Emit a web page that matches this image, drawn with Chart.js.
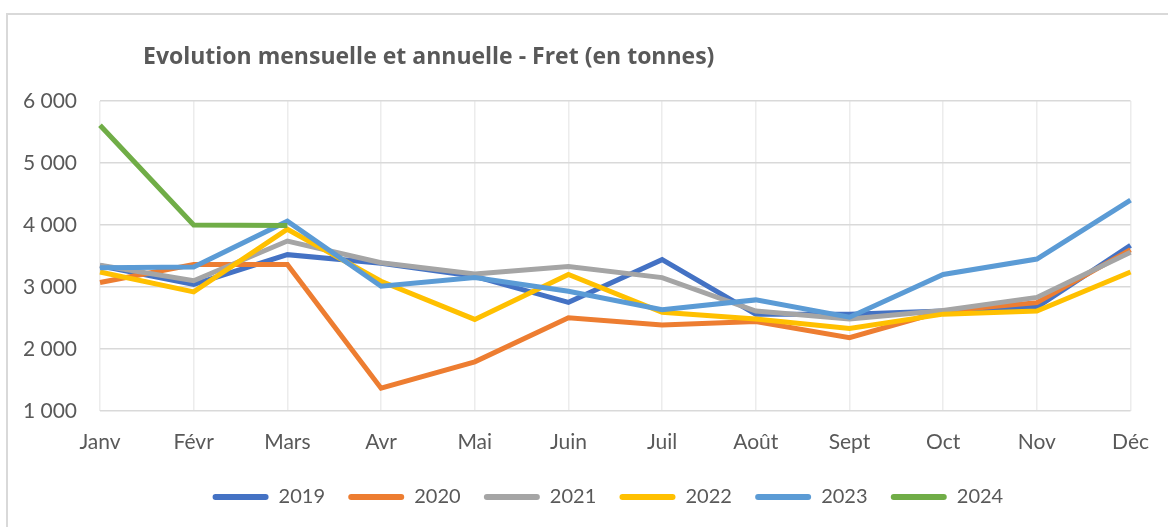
<!DOCTYPE html>
<html>
<head>
<meta charset="utf-8">
<script src="https://cdn.jsdelivr.net/npm/chart.js@4/dist/chart.umd.min.js"></script>
<style>
  html, body { margin: 0; padding: 0; background: #fff; }
  #wrap { position: relative; width: 1168px; height: 527px; overflow: hidden; }
  #frame { position: absolute; left: 6px; top: 13px; width: 1180px; height: 530px; border: 2px solid #d9d9d9; box-sizing: border-box; }
  #fretChart { position: absolute; left: 0; top: 0; }
</style>
</head>
<body>
<div id="wrap">
  <div id="frame"></div>
  <canvas id="fretChart" width="1168" height="527"></canvas>
</div>
<script>
// Data
const months = ['Janv', 'Févr', 'Mars', 'Avr', 'Mai', 'Juin', 'Juil', 'Août', 'Sept', 'Oct', 'Nov', 'Déc'];
const years = ['2019', '2020', '2021', '2022', '2023', '2024'];
const fret2019 = [3340, 3040, 3520, 3380, 3170, 2750, 3440, 2560, 2560, 2610, 2670, 3670];
const fret2020 = [3070, 3360, 3360, 1365, 1790, 2500, 2385, 2440, 2180, 2610, 2745, 3600];
const fret2021 = [3350, 3100, 3740, 3390, 3210, 3330, 3150, 2610, 2480, 2620, 2830, 3560];
const fret2022 = [3240, 2920, 3930, 3090, 2475, 3200, 2590, 2480, 2330, 2560, 2610, 3240];
const fret2023 = [3310, 3320, 4060, 3010, 3150, 2930, 2630, 2790, 2510, 3200, 3450, 4400];
const fret2024 = [5610, 4000, 3990];
const yTicks = [1000, 2000, 3000, 4000, 5000, 6000];

const colors = ['#4472C4', '#ED7D31', '#A5A5A5', '#FFC000', '#5B9BD5', '#70AD47'];
const series = [fret2019, fret2020, fret2021, fret2022, fret2023, fret2024];
const textColor = '#595959';
const fontFamily = 'Lato, "Open Sans", sans-serif';

function fmtThousands(v) {
    return String(v).replace(/\B(?=(\d{3})+(?!\d))/g, ' ');
}

// title drawn left of the chart area like the Excel original
const titlePlugin = {
    id: 'leftTitle',
    afterLayout(chart) {
        // legend in the original sits a bit right of the canvas centre
        chart.legend.left += 43;
        chart.legend.right += 43;
    },
    afterDraw(chart) {
        const ctx = chart.ctx;
        const area = chart.chartArea;
        ctx.save();
        ctx.font = 'bold 23px "Open Sans", Lato, sans-serif';
        ctx.fillStyle = textColor;
        ctx.textAlign = 'left';
        ctx.textBaseline = 'middle';
        ctx.fillText('Evolution mensuelle et annuelle - Fret (en tonnes)', area.left + 43, area.top - 44);
        ctx.restore();
    }
};

document.addEventListener('DOMContentLoaded', function () {
    const ctx = document.getElementById('fretChart').getContext('2d');
    const fretChart = new Chart(ctx, {
        type: 'line',
        data: {
            labels: months,
            datasets: years.map((y, i) => ({
                label: y + '  ',
                data: series[i],
                borderColor: colors[i],
                backgroundColor: colors[i],
                borderWidth: 5,
                pointRadius: 0,
                tension: 0,
                order: years.length - i // later years on top
            }))
        },
        options: {
            responsive: false,
            animation: false,
            layout: {
                padding: { left: 6, right: 34, top: 101, bottom: 10 }
            },
            scales: {
                x: {
                    offset: false,
                    grid: { color: '#ececec', lineWidth: 1.5, drawTicks: false },
                    border: { display: false },
                    ticks: {
                        color: textColor,
                        font: { family: fontFamily, size: 21 },
                        padding: 19,
                        maxRotation: 0
                    }
                },
                y: {
                    min: 1000,
                    max: 6000,
                    afterFit: function (scale) { scale.width = 94; },
                    afterBuildTicks: function (scale) { scale.ticks = yTicks.map(v => ({ value: v })); },
                    grid: { color: '#d9d9d9', lineWidth: 1.5, drawTicks: false },
                    border: { display: false },
                    ticks: {
                        color: textColor,
                        font: { family: fontFamily, size: 21 },
                        padding: 23,
                        callback: function (value) { return fmtThousands(value); }
                    }
                }
            },
            plugins: {
                title: { display: false },
                tooltip: { enabled: false },
                legend: {
                    display: true,
                    position: 'bottom',
                    labels: {
                        color: textColor,
                        font: { family: fontFamily, size: 20 },
                        boxWidth: 56,
                        boxHeight: 6,
                        padding: 13,
                        useBorderRadius: true,
                        borderRadius: 3,
                        sort: (a, b) => a.datasetIndex - b.datasetIndex,
                        generateLabels: function (chart) {
                            const items = Chart.defaults.plugins.legend.labels.generateLabels(chart);
                            return items.map(it => Object.assign(it, { lineWidth: 0, fillStyle: colors[it.datasetIndex] }));
                        }
                    }
                }
            }
        },
        plugins: [titlePlugin]
    });
});
</script>
</body>
</html>
